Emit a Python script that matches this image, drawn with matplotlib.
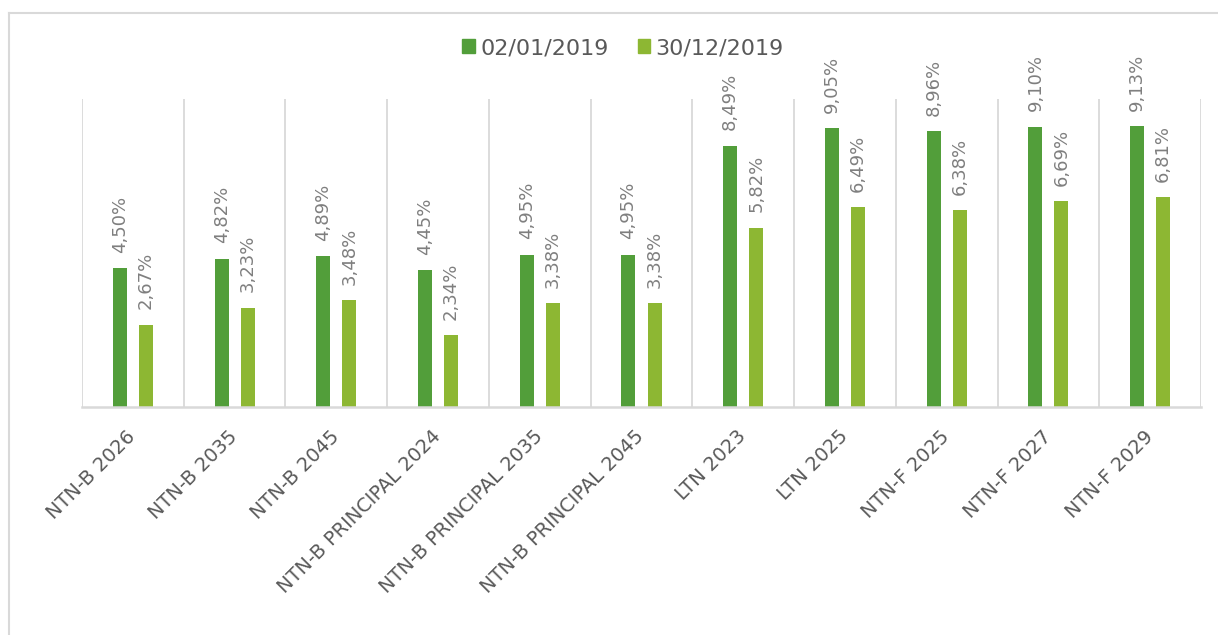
import matplotlib
matplotlib.use("Agg")
import matplotlib.pyplot as plt
import matplotlib.patches as mpatches
import matplotlib.lines as mlines
import numpy as np

categories = ["NTN-B 2026", "NTN-B 2035", "NTN-B 2045", "NTN-B PRINCIPAL 2024",
              "NTN-B PRINCIPAL 2035", "NTN-B PRINCIPAL 2045", "LTN 2023", "LTN 2025",
              "NTN-F 2025", "NTN-F 2027", "NTN-F 2029"]
series_names = ["02/01/2019", "30/12/2019"]
values_jan = [4.50, 4.82, 4.89, 4.45, 4.95, 4.95, 8.49, 9.05, 8.96, 9.10, 9.13]
values_dec = [2.67, 3.23, 3.48, 2.34, 3.38, 3.38, 5.82, 6.49, 6.38, 6.69, 6.81]

colors = ["#529E3A", "#8DB733"]
grid_color = "#D9D9D9"
tick_color = "#595959"
label_color = "#7F7F7F"

W, H = 1218, 635
fig = plt.figure(figsize=(W / 100, H / 100), dpi=100)
fig.patch.set_facecolor("white")

# outer chart border (only left and top edges fall inside the picture)
bx, by = 8.5 / W, 1 - 12.5 / H
fig.add_artist(mlines.Line2D([bx, bx], [-0.05, by], transform=fig.transFigure,
                             color=grid_color, linewidth=1.5))
fig.add_artist(mlines.Line2D([bx, 1.05], [by, by], transform=fig.transFigure,
                             color=grid_color, linewidth=1.5))

ax = fig.add_axes([82 / W, (H - 407) / H, (1201 - 82) / W, (407 - 99) / H])
n = len(categories)
x = np.arange(n)
bw = 0.1375
off = 0.128

b1 = ax.bar(x - off, values_jan, width=bw, color=colors[0], zorder=3)
b2 = ax.bar(x + off, values_dec, width=bw, color=colors[1], zorder=3)

for bars, vals in ((b1, values_jan), (b2, values_dec)):
    for rect, v in zip(bars, vals):
        ax.annotate(f"{v:.2f}".replace(".", ",") + "%",
                    xy=(rect.get_x() + rect.get_width() / 2, rect.get_height()),
                    xytext=(0, 11), textcoords="offset points",
                    rotation=90, ha="center", va="bottom",
                    fontsize=13, color=label_color)

ax.set_xlim(-0.5, n - 0.5)
ax.set_ylim(0, 10)

# vertical separators between categories
for b in np.arange(-0.5, n, 1.0):
    ax.axvline(b, color=grid_color, linewidth=1.3, zorder=1)

for s in ("top", "right", "left"):
    ax.spines[s].set_visible(False)
ax.spines["bottom"].set_color(grid_color)
ax.spines["bottom"].set_linewidth(1.8)
ax.spines["bottom"].set_zorder(4)

ax.set_yticks([])
ax.set_xticks(x)
ax.set_xticklabels(categories, rotation=45, ha="right", va="center",
                   rotation_mode="anchor", fontsize=14, color=tick_color)
ax.tick_params(axis="x", length=0, pad=19)

handles = [mpatches.Patch(color=c, label=nm) for c, nm in zip(colors, series_names)]
fig.legend(handles=handles, loc="center", bbox_to_anchor=(623 / W, 1 - 48 / H),
           ncol=2, frameon=False, fontsize=16, handlelength=0.55,
           handleheight=0.55, handletextpad=0.25, columnspacing=1.3,
           labelcolor=tick_color)

fig.savefig("out.png", dpi=100, facecolor="white")
